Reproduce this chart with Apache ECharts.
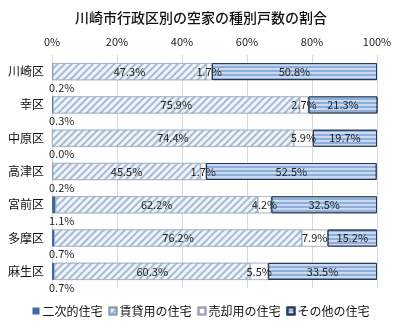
<!DOCTYPE html>
<html><head><meta charset="utf-8">
<script src="https://cdn.jsdelivr.net/npm/echarts@6/dist/echarts.min.js"></script>
<style>html,body{margin:0;padding:0;background:#fff}#c{width:402px;height:330px}</style>
</head><body><div id="c"></div>
<script>
const categories = ['川崎区','幸区','中原区','高津区','宮前区','多摩区','麻生区'];
const seriesNames = ['二次的住宅','賃貸用の住宅','売却用の住宅','その他の住宅'];
const secondary = [0.2, 0.3, 0.0, 0.2, 1.1, 0.7, 0.7];
const rental = [47.3, 75.9, 74.4, 45.5, 62.2, 76.2, 60.3];
const forSale = [1.7, 2.7, 5.9, 1.7, 4.2, 7.9, 5.5];
const other = [50.8, 21.3, 19.7, 52.5, 32.5, 15.2, 33.5];
const xTicks = [0, 20, 40, 60, 80, 100];

const font = '"Noto Sans CJK JP", "Noto Sans", sans-serif';
const lbl = {show: true, position: 'inside', color: '#222', fontSize: 11, fontFamily: font, formatter: p => p.value.toFixed(1) + '%'};
const chart = echarts.init(document.getElementById('c'));
chart.setOption({
  animation: false,
  title: {text: '川崎市行政区別の空家の種別戸数の割合', left: 'center', top: 6,
    textStyle: {fontSize: 14, fontWeight: 500, color: '#111', fontFamily: font}},
  legend: {bottom: 8, left: 'center', itemWidth: 7, itemHeight: 7, itemGap: 6, icon: 'rect',
    textStyle: {fontSize: 12, color: '#111', fontFamily: font, padding: [0, 0, 0, -2]}, data: seriesNames},
  grid: {left: 52, right: 25, top: 55, bottom: 42, containLabel: false},
  xAxis: {type: 'value', position: 'top', min: xTicks[0], max: xTicks[xTicks.length-1], interval: 20,
    axisLabel: {formatter: '{value}%', color: '#222', fontSize: 11, fontFamily: font, margin: 8},
    axisLine: {show: false}, axisTick: {show: false},
    splitLine: {lineStyle: {color: '#d9d9d9'}}},
  yAxis: {type: 'category', data: categories, inverse: true,
    axisLabel: {color: '#111', fontSize: 12, fontFamily: font, margin: 8},
    axisLine: {show: true, lineStyle: {color: '#d9d9d9'}}, axisTick: {show: false}},
  series: [
    {name: seriesNames[0], type: 'bar', stack: 't', data: secondary, barWidth: '51%',
      itemStyle: {color: '#3f6b9e'},
      label: {show: true, position: [-3, 19], align: 'left', color: '#222', fontSize: 11, fontFamily: font,
        formatter: p => p.value.toFixed(1) + '%'}},
    {name: seriesNames[1], type: 'bar', stack: 't', data: rental,
      itemStyle: {color: '#f0f4f9', borderColor: '#8c9fb8', borderWidth: 0.5,
        decal: {symbol: 'rect', color: '#a6bad4', dashArrayX: [1, 0], dashArrayY: [1.2, 2.2], rotation: -Math.PI/4}},
      label: lbl},
    {name: seriesNames[2], type: 'bar', stack: 't', data: forSale,
      itemStyle: {color: '#ffffff', borderColor: '#9aa5b5', borderWidth: 0.5,
        decal: {symbol: 'circle', symbolSize: 0.5, color: '#b0b8c4', dashArrayX: [[1, 3]], dashArrayY: [1, 3]}},
      label: lbl},
    {name: seriesNames[3], type: 'bar', stack: 't', data: other,
      itemStyle: {color: '#8eaedb', borderColor: '#24395a', borderWidth: 1,
        decal: {symbol: 'rect', color: 'rgba(255,255,255,0.55)', dashArrayX: [1, 0], dashArrayY: [1.5, 2], rotation: 0}},
      label: lbl}
  ]
});
</script></body></html>
